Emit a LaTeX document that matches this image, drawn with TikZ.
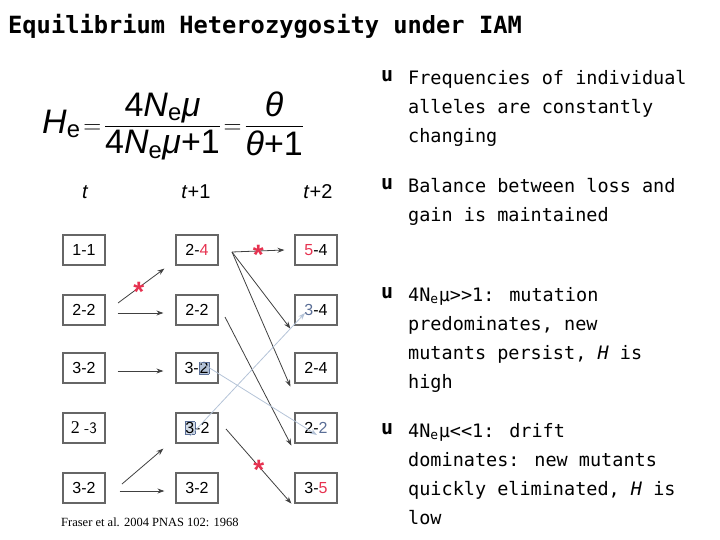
\documentclass[tikz,border=0pt]{standalone}
\usepackage{fontspec}
\usepackage{amsmath}
\setmainfont{Liberation Sans}
\newfontfamily\monof{DejaVu Sans Mono}
\newfontfamily\timesf{Liberation Serif}
\usetikzlibrary{arrows.meta}
\definecolor{redx}{RGB}{230,50,80}
\definecolor{bluex}{RGB}{90,110,150}
\definecolor{lblue}{RGB}{180,195,215}
\tikzset{
 box/.style={draw=black!60,line width=1.2pt,minimum width=42pt,minimum height=30pt,inner sep=0pt,font=\fontsize{16}{17}\selectfont},
 arr/.style={-{Stealth[length=7pt,width=5pt]},black!75,line width=0.8pt},
 larr/.style={-{Stealth[length=7pt,width=5pt]},lblue,line width=0.8pt},
 star/.style={text=redx,font=\fontsize{28}{28}\selectfont\bfseries,inner sep=0pt,yshift=-4pt},
 btxt/.style={anchor=north west,align=left,font=\monof\fontsize{18.5}{29}\selectfont,inner sep=0pt},
 bul/.style={anchor=north west,font=\monof\bfseries\fontsize{20}{29}\selectfont,inner sep=0pt}
}
\begin{document}
\begin{tikzpicture}[x=1pt,y=-1pt]
\useasboundingbox (0,0) rectangle (720,540);
\node[anchor=west,font=\monof\bfseries\fontsize{23.7}{24}\selectfont,inner sep=0pt] (title) at (8,26) {Equilibrium Heterozygosity under IAM};
\node[anchor=west,inner sep=0pt,font=\fontsize{34}{36}\selectfont] (eq) at (42,126) {$\text{\textit{H}}_{\text{e}}\!=\!\dfrac{\text{4\textit{N}}_{\text{e}}\text{\textit{μ}}}{\text{4\textit{N}}_{\text{e}}\text{\textit{μ}+1}}\!=\!\dfrac{\text{\textit{θ}}}{\text{\textit{θ}+1}}$};
\node[font=\itshape\fontsize{20}{20}\selectfont] (t0) at (85,192) {t};
\node[font=\fontsize{20}{20}\selectfont] (t1) at (196,192) {\textit{t}+1};
\node[font=\fontsize{20}{20}\selectfont] (t2) at (318,192) {\textit{t}+2};
% boxes
\node[box] (a1) at (84,250) {1-1};
\node[box] (a2) at (84,310) {2-2};
\node[box] (a3) at (84,368) {3-2};
\node[box] (a4) at (84,428) {\timesf\fontsize{18}{18}\selectfont 2 \fontsize{16}{17}\selectfont\sffamily-3};
\node[box] (a5) at (84,488) {3-2};
\node[box] (b1) at (197,250) {2-\textcolor{redx}{4}};
\node[box] (b2) at (197,310) {2-2};
\node[box] (b3) at (197,368) {3-\setlength{\fboxsep}{0.5pt}\fcolorbox{bluex}{lblue}{2}};
\node[box] (b4) at (197,428) {\setlength{\fboxsep}{0.5pt}\fcolorbox{bluex}{lblue!60}{3}-2};
\node[box] (b5) at (197,488) {3-2};
\node[box] (c1) at (316,250) {\textcolor{redx}{5}-4};
\node[box] (c2) at (316,310) {\textcolor{bluex}{3}-4};
\node[box] (c3) at (316,368) {2-4};
\node[box] (c4) at (316,428) {2-\textcolor{bluex}{2}};
\node[box] (c5) at (316,488) {3-\textcolor{redx}{5}};
% arrows col1->col2
\coordinate (s2) at (118,303);
\draw[arr] (s2) -- ([xshift=-11pt,yshift=-3pt]b1.south west) node[pos=0.45,star]{*};
\draw[arr] ([xshift=12pt,yshift=-3pt]a2.east) -- ([xshift=-12pt,yshift=-3pt]b2.west);
\draw[arr] ([xshift=12pt,yshift=-3pt]a3.east) -- ([xshift=-12pt,yshift=-3pt]b3.west);
\coordinate (s5) at (122,484);
\draw[arr] (s5) -- ([xshift=-12pt,yshift=-5pt]b4.south west);
\draw[arr] ([xshift=14pt,yshift=-3pt]a5.east) -- ([xshift=-11pt,yshift=-3pt]b5.west);
% col2->col3
\coordinate (r1) at (232,252);
\draw[arr] (r1) -- ([xshift=-10pt]c1.west) node[pos=0.5,star]{*};
\draw[arr] (r1) -- ([xshift=-4pt,yshift=-3pt]c2.south west);
\draw[arr] (r1) -- ([xshift=-4pt,yshift=-3pt]c3.south west);
\draw[arr] (225,317) -- ([xshift=-3pt,yshift=-2pt]c4.south west);
\draw[arr] (226,429) -- ([xshift=-3pt,yshift=0pt]c5.south west) node[pos=0.5,star]{*};
% light blue
\draw[larr] ([xshift=3pt,yshift=6pt]b3.center) -- ([xshift=1pt,yshift=-7pt]c4.center);
\draw[larr] ([xshift=-7pt,yshift=-8pt]b4.center) -- ([xshift=-11pt,yshift=-3pt]c2.center);
\node[anchor=west,font=\timesf\fontsize{12.5}{13}\selectfont,inner sep=0pt] (ref) at (61,522) {Fraser et al. 2004 PNAS 102: 1968};
% bullets
\node[bul] (u1) at (381,70) {u};
\node[btxt] (x1) at (408,70) {Frequencies of individual\\alleles are constantly\\changing};
\node[bul] (u2) at (381,178) {u};
\node[btxt] (x2) at (408,178) {Balance between loss and\\gain is maintained};
\node[bul] (u3) at (381,287) {u};
\node[btxt] (x3) at (408,287) {4N\textsubscript{e}μ>>1: mutation\\predominates, new\\mutants persist, \textit{H} is\\high};
\node[bul] (u4) at (381,423) {u};
\node[btxt] (x4) at (408,423) {4N\textsubscript{e}μ<<1: drift\\dominates: new mutants\\quickly eliminated, \textit{H} is\\low};
\end{tikzpicture}
\end{document}
